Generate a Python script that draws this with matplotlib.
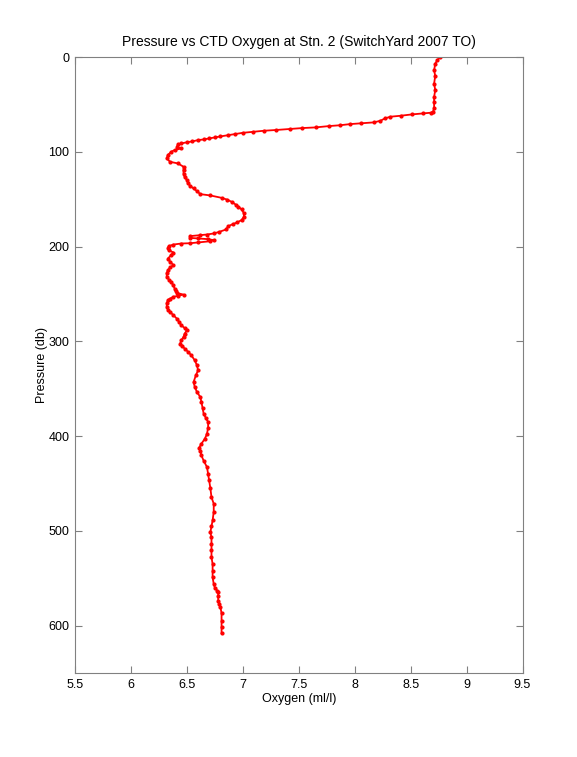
import numpy as np
import matplotlib.pyplot as plt

plt.rcParams['font.family'] = ['Liberation Sans', 'DejaVu Sans']

# CTD cast, Stn. 2 -- pressure (db) and oxygen (ml/l)
pressure = [0.5, 3, 7, 14, 20, 28, 35, 42, 48, 54, 57.7, 58.8, 59.5, 60.6, 62, 63,
            64.8, 67.3, 69, 70, 70.8, 72, 72.9, 74.3, 75, 76, 77, 77.8, 78.9, 80,
            81.3, 82.4, 83.8, 84.8, 85.9, 87, 87.7, 89, 90, 91.2, 92.2, 94.7, 96.5,
            98.2, 100, 103.5, 107, 110.6, 112.3, 115.8, 119.4, 123, 126.4, 130,
            133.4, 136, 138.7, 141.5, 144.7, 146.1, 148.6, 150.5, 152.8, 156, 158,
            160.9, 165, 168.5, 172, 174.5, 176.4, 178.5, 182, 184.5, 186.2, 187.3,
            188, 189, 190.9, 191.5, 192.2, 193.3, 194.4, 195.7, 196.5, 196.8,
            197.9, 199.5, 201.4, 204, 206.3, 209, 212.7, 216, 219.7, 222, 225, 228,
            232, 235, 237.4, 241, 244.3, 247, 249, 250.7, 252, 253, 255, 256.7,
            260, 263.7, 266.5, 269, 272.5, 276, 279.5, 283, 286, 288.4, 292, 295.4,
            299, 302.4, 305, 307.7, 311, 314.8, 320, 325.3, 330.6, 336, 343, 348,
            353.5, 358.8, 364, 370, 376.4, 381, 385.2, 391, 397.5, 403, 408, 412.3,
            416, 420.4, 426, 432.8, 440, 446.8, 455, 464.5, 471.4, 480, 489, 495,
            501.4, 507, 513.7, 520, 527.8, 535, 542, 549, 556, 560, 563, 564.8, 569,
            573.6, 577, 580.6, 587, 594.7, 601, 608]
oxygen = [8.76, 8.74, 8.72, 8.71, 8.72, 8.71, 8.72, 8.71, 8.71, 8.71, 8.70, 8.68,
          8.61, 8.51, 8.41, 8.32, 8.27, 8.23, 8.17, 8.06, 7.96, 7.87, 7.77, 7.65,
          7.53, 7.42, 7.30, 7.19, 7.09, 7.00, 6.93, 6.87, 6.80, 6.75, 6.70, 6.65,
          6.60, 6.55, 6.50, 6.45, 6.42, 6.41, 6.45, 6.39, 6.36, 6.33, 6.32, 6.35,
          6.42, 6.47, 6.47, 6.47, 6.48, 6.50, 6.51, 6.53, 6.56, 6.59, 6.62, 6.71,
          6.81, 6.86, 6.90, 6.94, 6.96, 6.99, 7.01, 7.01, 6.99, 6.95, 6.91, 6.87,
          6.85, 6.79, 6.74, 6.68, 6.62, 6.53, 6.53, 6.60, 6.69, 6.74, 6.71, 6.60,
          6.53, 6.45, 6.38, 6.34, 6.33, 6.34, 6.38, 6.36, 6.33, 6.35, 6.38, 6.35,
          6.33, 6.32, 6.32, 6.34, 6.36, 6.38, 6.39, 6.40, 6.41, 6.47, 6.42, 6.38,
          6.35, 6.33, 6.32, 6.32, 6.33, 6.35, 6.38, 6.41, 6.43, 6.45, 6.48, 6.50,
          6.48, 6.47, 6.45, 6.44, 6.46, 6.48, 6.51, 6.54, 6.57, 6.59, 6.60, 6.58,
          6.56, 6.57, 6.59, 6.62, 6.63, 6.64, 6.65, 6.67, 6.69, 6.69, 6.68, 6.66,
          6.63, 6.61, 6.62, 6.63, 6.65, 6.68, 6.69, 6.70, 6.71, 6.72, 6.74, 6.74,
          6.73, 6.72, 6.71, 6.72, 6.72, 6.72, 6.72, 6.73, 6.73, 6.73, 6.74, 6.75,
          6.77, 6.78, 6.78, 6.78, 6.79, 6.80, 6.81, 6.81, 6.81, 6.81]

xticks = np.arange(5.5, 9.51, 0.5)
xticklabels = ['5.5', '6', '6.5', '7', '7.5', '8', '8.5', '9', '9.5']
yticks = np.arange(0, 601, 100)

fig = plt.figure(figsize=(5.77, 7.57), dpi=100)
ax = fig.add_axes([75 / 577, 1 - 673 / 757, 447.5 / 577, 616 / 757])

ax.plot(oxygen, pressure, color='#ff0000', lw=1.3, marker='.', ms=4)

ax.set_xlim(5.5, 9.5)
ax.set_ylim(650, 0)
ax.set_xticks(xticks)
ax.set_xticklabels(xticklabels)
ax.set_yticks(yticks)
ax.tick_params(direction='in', length=5, width=0.8, color='#808080',
               labelsize=9, top=True, right=True, pad=4)
for s in ax.spines.values():
    s.set_color('#808080')
    s.set_linewidth(0.8)

ax.set_xlabel('Oxygen (ml/l)', fontsize=9, labelpad=2)
ax.set_ylabel('Pressure (db)', fontsize=9, labelpad=0)
ax.set_title('Pressure vs CTD Oxygen at Stn. 2 (SwitchYard 2007 TO)', fontsize=10, pad=8)

fig.savefig('out.png', dpi=100)
